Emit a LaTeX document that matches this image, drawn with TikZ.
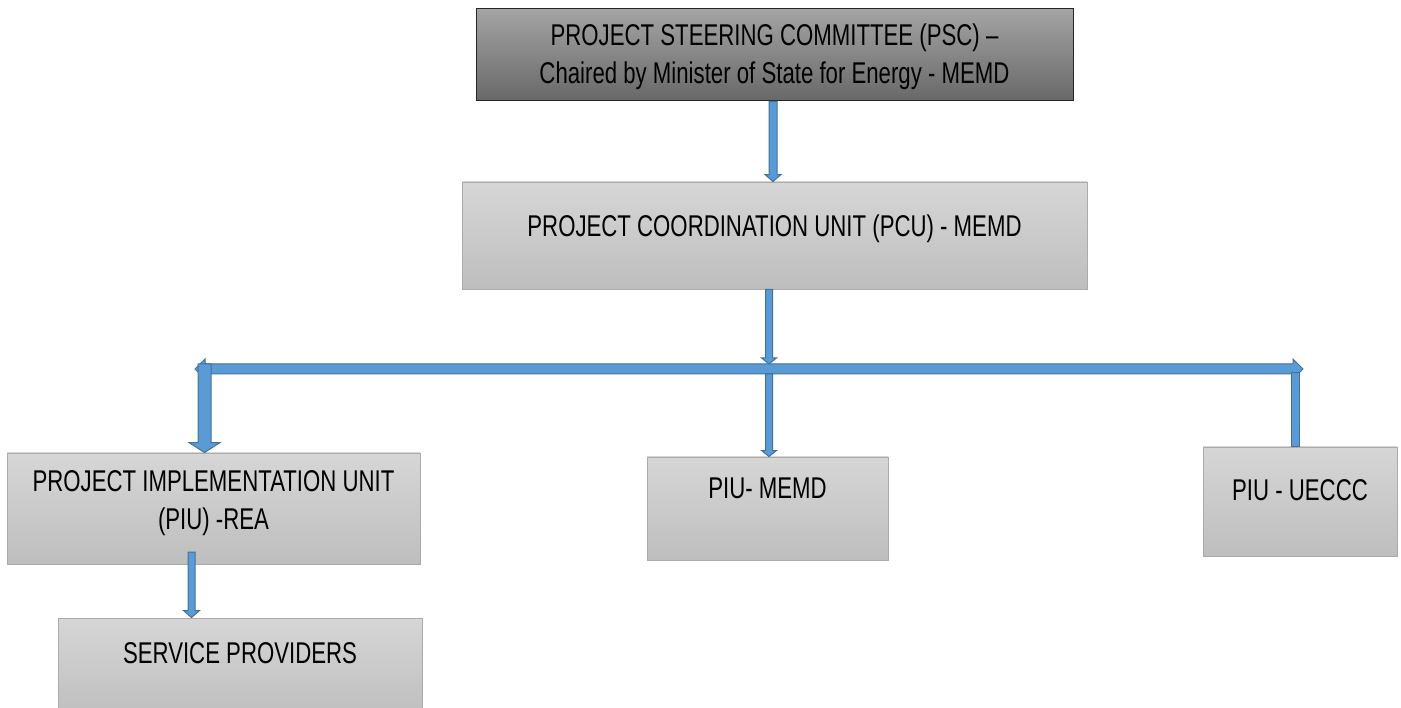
\documentclass[tikz,border=0pt]{standalone}
\usepackage{fontspec}
\setmainfont{Liberation Sans}[FakeStretch=0.74]
\usetikzlibrary{calc}
\definecolor{ablue}{HTML}{5B9BD5}
\definecolor{aborder}{HTML}{41719C}
\definecolor{lighttop}{HTML}{D6D6D6}
\definecolor{lightbot}{HTML}{BEBEBE}
\definecolor{lightedge}{HTML}{ABABAB}
\definecolor{darktop}{HTML}{A4A4A4}
\definecolor{darkbot}{HTML}{686868}
\definecolor{darkedge}{HTML}{262626}
\tikzset{
  lightbox/.style={draw=lightedge, line width=0.9pt, top color=lighttop, bottom color=lightbot, inner sep=0pt},
  darkbox/.style={draw=darkedge, line width=1pt, top color=darktop, bottom color=darkbot, inner sep=0pt},
  boxtext/.style={font=\fontsize{30}{38}\selectfont, align=center, text=black, inner sep=0pt},
  blockarrow/.style={fill=ablue, draw=aborder, line width=1pt, line join=miter},
}
% #1 start point, #2 tip point, #3 shaft width, #4 head width, #5 head length
\newcommand{\downblock}[5]{%
  \path[blockarrow] let \p1=#1, \p2=#2 in
    (\x1-#3pt/2,\y1) -- (\x1-#3pt/2,\y2+#5pt) -- (\x1-#4pt/2,\y2+#5pt) -- (\x1,\y2)
    -- (\x1+#4pt/2,\y2+#5pt) -- (\x1+#3pt/2,\y2+#5pt) -- (\x1+#3pt/2,\y1) -- cycle;}
\begin{document}
\begin{tikzpicture}[x=1pt,y=-1pt]
\useasboundingbox (0,0) rectangle (1401,708);
% boxes
\node[darkbox, minimum width=597pt, minimum height=92pt,
  label={[boxtext, yshift=-2pt]center:PROJECT STEERING COMMITTEE (PSC) --\\Chaired by Minister of State for Energy - MEMD}]
  (psc) at (774.5,55) {};
\node[lightbox, minimum width=625pt, minimum height=107pt,
  label={[boxtext, yshift=7pt]center:PROJECT COORDINATION UNIT (PCU) - MEMD}]
  (pcu) at (774.5,235.5) {};
\node[lightbox, minimum width=413pt, minimum height=111pt,
  label={[boxtext, yshift=5pt]center:PROJECT IMPLEMENTATION UNIT\\(PIU) -REA}]
  (rea) at (213.5,508.5) {};
\node[lightbox, minimum width=241pt, minimum height=103pt,
  label={[boxtext, yshift=20pt]center:PIU- MEMD}]
  (memd) at (767.5,508.5) {};
\node[lightbox, minimum width=194pt, minimum height=109pt,
  label={[boxtext, yshift=11pt]center:PIU - UECCC}]
  (uec) at (1300,501.5) {};
\node[lightbox, minimum width=364pt, minimum height=100pt,
  label={[boxtext, yshift=15pt]center:SERVICE PROVIDERS}]
  (sp) at (240,668) {};
% junction coordinates
\coordinate (barL) at (195,369);
\coordinate (barR) at (1303,369);
\coordinate (hub) at (769,364);
\coordinate (hubB) at (769,374);
\coordinate (lj) at (204.5,364);
\coordinate (rj) at (1295,373);
\coordinate (sj) at (191.5,552);
% PSC -> PCU
\downblock{(psc.south -| 773,0)}{(pcu.north -| 773,0)}{8}{16}{7}
% PCU -> bar
\downblock{(pcu.south -| hub)}{(hub)}{7}{15}{6}
% horizontal double arrow
\path[blockarrow] let \p1=(barL), \p2=(barR) in
  (\x1,\y1) -- (\x1+10pt,\y1+10pt) -- (\x1+10pt,\y1+5pt) -- (\x2-10pt,\y1+5pt)
  -- (\x2-10pt,\y1+10pt) -- (\x2,\y1) -- (\x2-10pt,\y1-10pt) -- (\x2-10pt,\y1-5pt)
  -- (\x1+10pt,\y1-5pt) -- (\x1+10pt,\y1-10pt) -- cycle;
% bar -> PIU REA (thick)
\downblock{(lj)}{(rea.north -| lj)}{13}{31}{10}
% bar -> PIU MEMD
\downblock{(hubB)}{(memd.north -| hubB)}{7}{15}{6}
% bar -- PIU UECCC (no head)
\path[blockarrow] let \p1=(rj), \p2=(uec.north) in
  (\x1-4pt,\y1) rectangle (\x1+4pt,\y2);
% PIU REA -> service providers
\downblock{(sj)}{(sp.north -| sj)}{7}{16}{7}
\end{tikzpicture}
\end{document}
